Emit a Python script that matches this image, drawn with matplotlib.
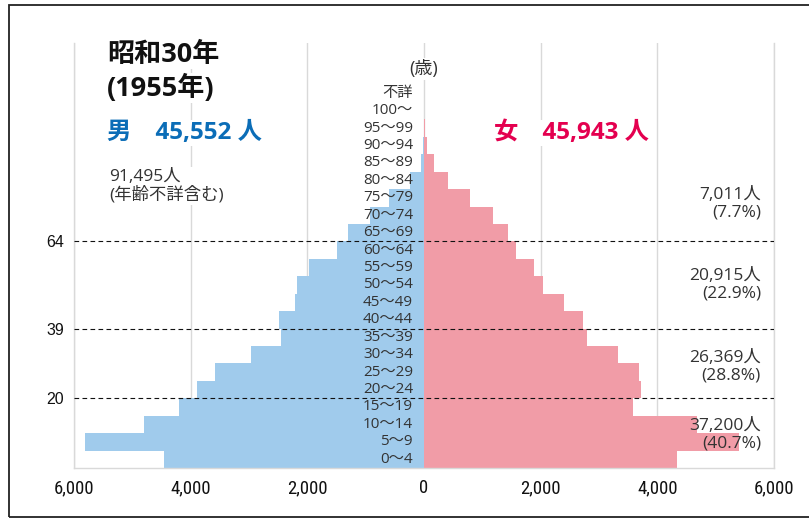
import matplotlib
matplotlib.use('Agg')
import matplotlib.pyplot as plt
from matplotlib.patches import Rectangle

# ---------------- data ----------------
ages = ['0～4', '5～9', '10～14', '15～19', '20～24', '25～29', '30～34', '35～39',
        '40～44', '45～49', '50～54', '55～59', '60～64', '65～69', '70～74', '75～79',
        '80～84', '85～89', '90～94', '95～99', '100～', '不詳']
male = [4457, 5811, 4800, 4200, 3891, 3583, 2966, 2451, 2486, 2211, 2177, 1971,
        1491, 1303, 926, 600, 240, 60, 20, 3, 1, 6]
female = [4340, 5400, 4680, 3590, 3720, 3690, 3330, 2800, 2730, 2400, 2040, 1890,
          1580, 1440, 1180, 790, 410, 170, 50, 10, 2, 6]
xticks = [-6000, -4000, -2000, 0, 2000, 4000, 6000]
xtick_labels = ['6,000', '4,000', '2,000', '0', '2,000', '4,000', '6,000']
boundary_labels = ['20', '39', '64']
boundary_pos = [3.5, 7.5, 12.5]
title1 = '昭和30年'
title2 = '(1955年)'
male_label = '男　45,552 人'
female_label = '女　45,943 人'
total_label = '91,495人\n(年齢不詳含む)'
group_labels = ['37,200人\n(40.7%)', '26,369人\n(28.8%)', '20,915人\n(22.9%)', '7,011人\n(7.7%)']

BLUE = '#A0CBEC'
PINK = '#F19CA7'
MALE_C = '#0B6DB7'
FEMALE_C = '#E4004F'
TXT = '#333333'
MIX = ['Open Sans', 'Noto Sans CJK JP', 'DejaVu Sans']

W, H = 809, 518
fig = plt.figure(figsize=(W / 100, H / 100), dpi=100)


def fx(x):
    return x / W


def fy(y):
    return 1 - y / H


ax = fig.add_axes([fx(74), fy(468), (774 - 74) / W, (468 - 43) / H])
ypos = list(range(len(ages)))
ax.barh(ypos, [-m for m in male], height=1.0, color=BLUE, linewidth=0, zorder=2)
ax.barh(ypos, female, height=1.0, color=PINK, linewidth=0, zorder=2)
ax.set_xlim(-6000, 6000)
ax.set_ylim(-0.5, 23.88)

ax.set_axisbelow(True)
ax.xaxis.grid(True, color='#d9d9d9', lw=1.0, zorder=0)
ax.yaxis.grid(False)
for s in ['left', 'right', 'bottom']:
    ax.spines[s].set_color('#d9d9d9')
    ax.spines[s].set_linewidth(1.0)
ax.spines['top'].set_visible(False)

ax.set_xticks(xticks)
ax.set_xticklabels(xtick_labels,
                   family=['Roboto Condensed', 'Liberation Sans Narrow', 'Liberation Sans'],
                   fontsize=13.5, color='#111111')
ax.tick_params(axis='x', length=0, pad=8)
ax.set_yticks(boundary_pos)
ax.set_yticklabels(boundary_labels, family=['Liberation Sans', 'DejaVu Sans'],
                   fontsize=11.5, color='#111111')
ax.tick_params(axis='y', length=0, pad=7)

for b in boundary_pos:
    ax.axhline(b, color='#111111', lw=0.8, ls=(0, (4.2, 3.0)), zorder=3)

# age labels
for i, lab in enumerate(ages):
    ax.annotate(lab, xy=(0, i), xytext=(-8, 0), textcoords='offset points',
                ha='right', va='center', fontsize=11, color=TXT, family=MIX, zorder=4)

# (歳)
fig.text(fx(424), fy(69), '(歳)', ha='center', va='center', fontsize=13, color=TXT,
         family=MIX, bbox=dict(fc='white', ec='none', pad=1.5))

# titles
wb = dict(fc='white', ec='none', pad=1.0)
fig.text(fx(107), fy(55), title1, ha='left', va='center', fontsize=19.5, fontweight='bold',
         color='#111111', family=MIX, bbox=wb)
fig.text(fx(107), fy(88), title2, ha='left', va='center', fontsize=19.5, fontweight='bold',
         color='#111111', family=MIX, bbox=wb)
fig.text(fx(107), fy(133), male_label, ha='left', va='center', fontsize=17.5, fontweight='bold',
         color=MALE_C, family=MIX, bbox=wb)
fig.text(fx(494), fy(133), female_label, ha='left', va='center', fontsize=17.5, fontweight='bold',
         color=FEMALE_C, family=MIX, bbox=wb)
fig.text(fx(109), fy(186), total_label, ha='left', va='center', fontsize=12.5, color=TXT,
         family=MIX, linespacing=1.1, bbox=wb)

# group annotations (right side)
group_y = [435, 367, 285, 204]
for lab, gy in zip(group_labels, group_y):
    fig.text(fx(761), fy(gy), lab, ha='right', va='center', multialignment='right',
             fontsize=12.5, color=TXT, family=MIX, linespacing=1.1, zorder=5)

# outer frame
fig.patches.append(Rectangle((fx(9), fy(517)), fx(830) - fx(9), fy(5) - fy(517),
                             transform=fig.transFigure, fill=False,
                             edgecolor='#222222', lw=1.3))

fig.savefig('out.png', dpi=100)
